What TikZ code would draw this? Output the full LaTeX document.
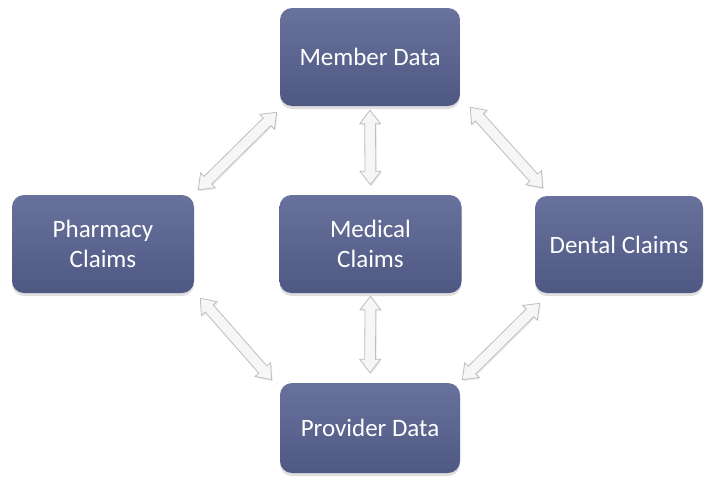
\documentclass[tikz,border=0pt]{standalone}
\usepackage{fontspec}
\setmainfont{Carlito}
\usetikzlibrary{shapes.arrows,shadows,calc}
\definecolor{boxtop}{RGB}{104,114,156}
\definecolor{boxbot}{RGB}{78,88,130}
\definecolor{arrowline}{RGB}{190,190,190}
\definecolor{arrowfill}{RGB}{246,246,246}
\newcommand\dblconn[2]{%
  \path let \p1=($(#2)-(#1)$), \n1={atan2(\y1,\x1)}, \n2={veclen(\x1,\y1)} in
    node[dblarrow, minimum height=\n2, rotate=\n1] at ($(#1)!0.5!(#2)$) {};}
\begin{document}
\begin{tikzpicture}[x=1pt,y=-1pt,
  box/.style={rounded corners=12pt, top color=boxtop, bottom color=boxbot,
    draw=none, text=white, font=\fontsize{25}{30}\selectfont, align=center,
    inner sep=0pt,
    drop shadow={shadow xshift=0pt, shadow yshift=-3pt, opacity=0.25}},
  dblarrow/.style={double arrow, draw=arrowline, fill=arrowfill,
    text height=0pt, text depth=0pt, inner xsep=0pt, inner ysep=5pt,
    minimum width=20pt, double arrow head extend=5pt,
    double arrow tip angle=75, line width=0.8pt,
    drop shadow={shadow xshift=1pt, shadow yshift=-1.5pt, opacity=0.15}}]
\fill[white] (0,0) rectangle (709,480);
\useasboundingbox (0,0) rectangle (709,480);

\node[box, minimum width=180pt, minimum height=98pt] (mem) at (370,57) {Member Data};
\node[box, minimum width=182pt, minimum height=98pt] (pha) at (103,244) {Pharmacy\\Claims};
\node[box, minimum width=182pt, minimum height=98pt] (med) at (370.5,244) {Medical\\Claims};
\node[box, minimum width=168pt, minimum height=97pt] (den) at (619,244.5) {Dental Claims};
\node[box, minimum width=180pt, minimum height=90pt] (pro) at (370,428) {Provider Data};

\coordinate (a1) at ($(mem.south west)+(-3,6)$);
\coordinate (a2) at ($(pha.north east)+(4,-5)$);
\coordinate (b1) at ($(mem.south)+(0,4)$);
\coordinate (b2) at ($(med.north)+(0,-10)$);
\coordinate (c1) at ($(mem.south east)+(10,1)$);
\coordinate (c2) at ($(den.north west)+(8,-8)$);
\coordinate (d1) at ($(med.south)+(0,3)$);
\coordinate (d2) at ($(pro.north)+(0,-10)$);
\coordinate (e1) at ($(pha.south east)+(6,5)$);
\coordinate (e2) at ($(pro.north west)+(-8,-3)$);
\coordinate (f1) at ($(den.south west)+(5,10)$);
\coordinate (f2) at ($(pro.north east)+(2,-3)$);

\dblconn{a1}{a2}
\dblconn{b1}{b2}
\dblconn{c1}{c2}
\dblconn{d1}{d2}
\dblconn{e1}{e2}
\dblconn{f1}{f2}
\end{tikzpicture}
\end{document}
